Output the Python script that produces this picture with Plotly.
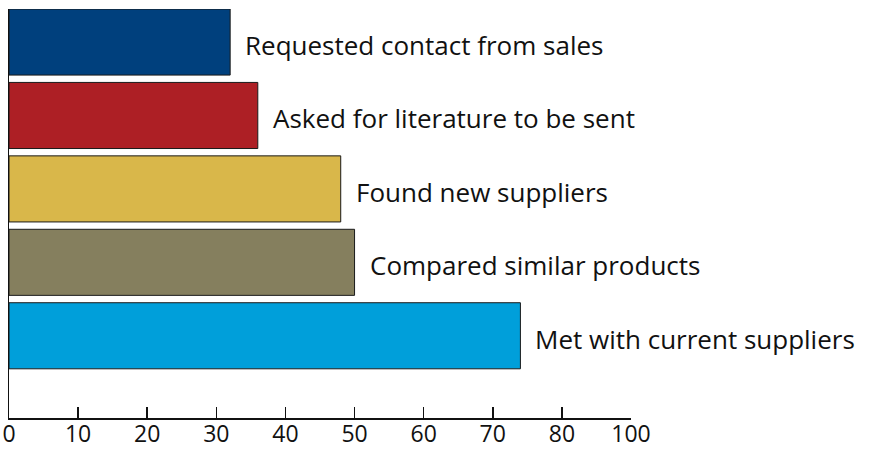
import plotly.graph_objects as go

categories = [
    "Requested contact from sales",
    "Asked for literature to be sent",
    "Found new suppliers",
    "Compared similar products",
    "Met with current suppliers",
]
values = [32, 36, 48, 50, 74]
colors = ["#00407D", "#AD1F25", "#D9B74A", "#857F5E", "#009FDA"]

tick_values = [0, 10, 20, 30, 40, 50, 60, 70, 80, 90]
tick_labels = ["0", "10", "20", "30", "40", "50", "60", "70", "80", "100"]

FONT = "Open Sans"

fig = go.Figure()
fig.add_trace(go.Bar(
    x=values,
    y=categories,
    orientation="h",
    width=0.9,
    marker=dict(color=colors, line=dict(color="#1a1a1a", width=1)),
    hoverinfo="skip",
))

for cat, val in zip(categories, values):
    fig.add_annotation(
        x=val, y=cat, text=cat, showarrow=False,
        xanchor="left", yanchor="middle", xshift=13, yshift=-3,
        font=dict(family=FONT, size=26, color="#111"),
    )

fig.update_layout(
    width=869, height=449,
    margin=dict(l=9, r=238, t=9, b=31, autoexpand=False),
    paper_bgcolor="white", plot_bgcolor="white",
    showlegend=False,
    font=dict(family=FONT, size=24, color="#111"),
    xaxis=dict(
        range=[0, 90],
        tickvals=tick_values, ticktext=tick_labels,
        ticks="inside", ticklen=11, tickwidth=1.5, tickcolor="#111",
        ticklabelstandoff=-6, ticklabeloverflow="allow",
        showline=True, linecolor="#111", linewidth=2,
        showgrid=False, zeroline=False, automargin=False,
        tickfont=dict(family=FONT, size=23, color="#111"),
    ),
    yaxis=dict(
        categoryorder="array", categoryarray=list(reversed(categories)),
        range=[-1.12, 4.45],
        showticklabels=False, ticks="",
        showline=True, linecolor="#111", linewidth=1.5,
        showgrid=False, zeroline=False, automargin=False,
    ),
)

fig.write_html(
    "out.html",
    config={"displayModeBar": False, "staticPlot": True},
    post_script="document.body.style.margin='0';document.body.style.padding='0';",
)
